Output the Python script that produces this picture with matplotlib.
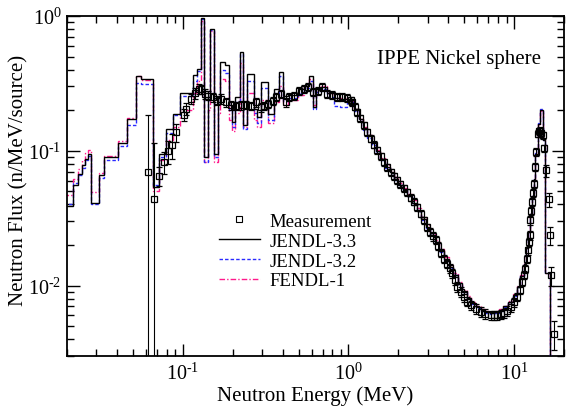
import numpy as np
import matplotlib
matplotlib.use("Agg")
import matplotlib.pyplot as plt
from matplotlib.lines import Line2D
from matplotlib.ticker import LogLocator, FuncFormatter, NullFormatter

# ---------------- data ----------------
# histogram group boundaries (MeV), shared by the three calculations
edges = [0.019, 0.0217, 0.0234, 0.0245, 0.0256, 0.0266, 0.0279, 0.0313, 0.0336, 0.0404,
         0.0458, 0.0521, 0.0558, 0.0662, 0.0716, 0.0793, 0.0871, 0.0968, 0.115, 0.1217,
         0.1293, 0.1338, 0.1415, 0.1455, 0.1545, 0.1625, 0.168, 0.181, 0.19, 0.198,
         0.208, 0.2215, 0.232, 0.244, 0.268, 0.2805, 0.2963, 0.328, 0.353, 0.383,
         0.400, 0.429, 0.493, 0.541, 0.580, 0.607, 0.636, 0.681, 0.747, 0.820,
         0.895, 0.986, 1.082,
         1.15, 1.22, 1.30, 1.38, 1.47, 1.56, 1.66, 1.77, 1.88, 2.00,
         2.13, 2.27, 2.42, 2.58, 2.75, 2.93, 3.12, 3.32, 3.54, 3.77,
         4.02, 4.28, 4.56, 4.86, 5.18, 5.52, 5.88, 6.27, 6.68, 7.12,
         7.59, 8.09, 8.62, 9.18, 9.78, 10.4, 10.9, 11.4, 11.8, 12.2,
         12.5, 12.8, 13.1, 13.4, 13.9, 14.28, 14.95, 15.45, 16.4, 20.0]

jendl33 = [0.0387, 0.0553, 0.0676, 0.0779, 0.0872, 0.095, 0.0412, 0.0664, 0.0898, 0.114,
           0.171, 0.357, 0.341, 0.054, 0.095, 0.146, 0.188, 0.269, 0.365, 0.405,
           0.96, 0.090, 0.25, 0.80, 0.095, 0.25, 0.459, 0.43, 0.22, 0.163,
           0.25, 0.54, 0.154, 0.372, 0.205, 0.178, 0.326, 0.188, 0.288, 0.387,
           0.257, 0.26, 0.288, 0.302, 0.358, 0.21, 0.288, 0.296, 0.27, 0.245,
           0.243, 0.238,
           0.205, 0.172, 0.148, 0.130, 0.115, 0.099, 0.087, 0.076, 0.069, 0.062,
           0.056, 0.051, 0.046, 0.041, 0.036, 0.031, 0.027, 0.0238, 0.0212, 0.0180,
           0.0158, 0.0138, 0.0120, 0.0104, 0.0091, 0.0081, 0.0074, 0.0069, 0.0066, 0.0064,
           0.0063, 0.0064, 0.0066, 0.0070, 0.0076, 0.0085, 0.0098, 0.0118, 0.0145, 0.019,
           0.025, 0.034, 0.046, 0.062, 0.095, 0.159, 0.199, 0.12, 0.0123, 0.0]

jendl32 = [0.0405, 0.058, 0.066, 0.075, 0.085, 0.092, 0.040, 0.063, 0.085, 0.108,
           0.154, 0.319, 0.312, 0.056, 0.090, 0.135, 0.183, 0.255, 0.33, 0.39,
           0.95, 0.083, 0.24, 0.79, 0.09, 0.23, 0.40, 0.38, 0.20, 0.15,
           0.23, 0.52, 0.145, 0.33, 0.19, 0.16, 0.29, 0.17, 0.27, 0.36,
           0.235, 0.245, 0.27, 0.29, 0.33, 0.205, 0.275, 0.285, 0.25, 0.215,
           0.21, 0.232,
           0.198, 0.166, 0.142, 0.125, 0.111, 0.096, 0.085, 0.075, 0.068, 0.061,
           0.056, 0.051, 0.046, 0.041, 0.0355, 0.0305, 0.0268, 0.0236, 0.0210, 0.0178,
           0.0156, 0.0136, 0.0119, 0.0103, 0.0090, 0.0080, 0.0073, 0.0068, 0.0065, 0.0063,
           0.0062, 0.0063, 0.0065, 0.0069, 0.0075, 0.0084, 0.0097, 0.0117, 0.0145, 0.019,
           0.025, 0.034, 0.046, 0.063, 0.097, 0.162, 0.203, 0.12, 0.0123, 0.0]

fendl1 = [0.0467, 0.0613, 0.073, 0.085, 0.097, 0.102, 0.0495, 0.0686, 0.092, 0.118,
          0.175, 0.36, 0.337, 0.05, 0.085, 0.12, 0.15, 0.20, 0.27, 0.33,
          0.92, 0.083, 0.2, 0.78, 0.083, 0.19, 0.34, 0.33, 0.17, 0.14,
          0.19, 0.45, 0.15, 0.27, 0.17, 0.15, 0.24, 0.16, 0.23, 0.30,
          0.22, 0.24, 0.26, 0.30, 0.34, 0.22, 0.28, 0.30, 0.27, 0.245,
          0.245, 0.236,
          0.205, 0.172, 0.149, 0.131, 0.117, 0.101, 0.089, 0.078, 0.071, 0.064,
          0.058, 0.053, 0.048, 0.043, 0.0375, 0.032, 0.028, 0.0246, 0.0218, 0.0186,
          0.0163, 0.0142, 0.0123, 0.0106, 0.0093, 0.0083, 0.0076, 0.0071, 0.0067, 0.0065,
          0.0064, 0.0065, 0.0067, 0.0071, 0.0077, 0.0086, 0.0099, 0.0119, 0.0146, 0.019,
          0.025, 0.034, 0.046, 0.062, 0.095, 0.158, 0.197, 0.12, 0.0123, 0.0]

meas_E = [0.0618, 0.0667, 0.0719, 0.0769, 0.0812, 0.0864, 0.0912, 0.101, 0.105, 0.112,
          0.118, 0.125, 0.129, 0.136, 0.142, 0.152, 0.161, 0.170, 0.183, 0.196,
          0.209, 0.224, 0.240, 0.258, 0.277, 0.295, 0.311, 0.325, 0.348, 0.365,
          0.391, 0.419, 0.439, 0.471, 0.505, 0.541, 0.566, 0.607, 0.651, 0.697,
          0.747, 0.801, 0.858, 0.920, 0.986, 1.03, 1.057, 1.09, 1.133, 1.18,
          1.243, 1.30, 1.363, 1.43, 1.495, 1.57, 1.641, 1.72, 1.799, 1.88,
          1.973, 2.06, 2.16, 2.267, 2.38, 2.49, 2.602, 2.73, 2.86, 2.99,
          3.12, 3.23, 3.355, 3.48, 3.62, 3.77, 3.93, 4.08, 4.233, 4.38,
          4.536, 4.75, 4.977, 5.2, 5.455, 5.85, 6.269, 6.7, 7.212, 7.56,
          7.915, 8.3, 8.681, 9.1, 9.51, 9.95, 10.42, 10.8, 11.17, 11.45,
          11.69, 11.9, 12.09, 12.27, 12.44, 12.55, 12.7, 12.85, 13.0, 13.16,
          13.34, 13.6, 13.9, 14.15, 14.37, 14.6, 14.84, 15.1, 15.58, 16.2,
          16.55, 16.78, 17.3]

meas_flux = [0.0695, 0.044, 0.0649, 0.0826, 0.0990, 0.110, 0.137, 0.185, 0.205, 0.243,
             0.267, 0.288, 0.285, 0.264, 0.257, 0.250, 0.236, 0.243, 0.229, 0.217,
             0.214, 0.217, 0.219, 0.214, 0.229, 0.21, 0.216, 0.223, 0.236, 0.250,
             0.264, 0.229, 0.25, 0.257, 0.280, 0.288, 0.296, 0.272, 0.280, 0.296,
             0.264, 0.26, 0.250, 0.25, 0.246, 0.238, 0.230, 0.212, 0.194, 0.175,
             0.154, 0.138, 0.123, 0.111, 0.1005, 0.091, 0.0824, 0.0755, 0.0695, 0.0645,
             0.0602, 0.0565, 0.053, 0.0494, 0.045, 0.0418, 0.0383, 0.0342, 0.0305, 0.0272,
             0.0250, 0.0232, 0.0217, 0.0196, 0.0175, 0.0158, 0.0145, 0.0134, 0.0123, 0.0110,
             0.00978, 0.0090, 0.00824, 0.0076, 0.00714, 0.00672, 0.00638, 0.00615, 0.00602, 0.0060,
             0.00602, 0.0061, 0.00621, 0.0065, 0.00695, 0.0075, 0.00824, 0.0093, 0.01064, 0.0120,
             0.01336, 0.0158, 0.0182, 0.021, 0.0236, 0.0305, 0.036, 0.0417, 0.049, 0.057,
             0.0757, 0.0977, 0.134, 0.14, 0.141, 0.135, 0.130, 0.104, 0.0715, 0.0436,
             0.0236, 0.0119, 0.0044]

meas_relerr = [1.65, 1.60, 0.16, 0.18, 0.20, 0.21, 0.15, 0.10, 0.10, 0.09,
               0.09, 0.08, 0.08, 0.08, 0.08, 0.08, 0.08, 0.08, 0.08, 0.08,
               0.07, 0.07, 0.07, 0.07, 0.07, 0.07, 0.07, 0.07, 0.07, 0.07,
               0.07, 0.07, 0.07, 0.07, 0.07, 0.07, 0.07, 0.07, 0.07, 0.07,
               0.07, 0.07, 0.07, 0.07, 0.07, 0.06, 0.06, 0.06, 0.06, 0.06,
               0.06, 0.06, 0.06, 0.06, 0.06, 0.06, 0.06, 0.06, 0.06, 0.06,
               0.06, 0.06, 0.06, 0.06, 0.06, 0.06, 0.06, 0.06, 0.06, 0.06,
               0.07, 0.07, 0.07, 0.07, 0.07, 0.07, 0.07, 0.08, 0.08, 0.08,
               0.08, 0.08, 0.08, 0.08, 0.08, 0.08, 0.08, 0.08, 0.08, 0.08,
               0.08, 0.08, 0.08, 0.08, 0.08, 0.07, 0.07, 0.07, 0.07, 0.07,
               0.07, 0.07, 0.07, 0.07, 0.07, 0.07, 0.07, 0.07, 0.07, 0.07,
               0.07, 0.07, 0.06, 0.06, 0.06, 0.06, 0.06, 0.06, 0.10, 0.12,
               0.15, 0.16, 0.25]

# ---------------- style ----------------
plt.rcParams['font.family'] = ['Liberation Serif', 'DejaVu Serif']
plt.rcParams['mathtext.fontset'] = 'custom'
plt.rcParams['mathtext.rm'] = 'Liberation Serif'
plt.rcParams['mathtext.it'] = 'Liberation Serif:italic'
plt.rcParams['mathtext.bf'] = 'Liberation Serif:bold'

fig = plt.figure(figsize=(5.68, 4.10), dpi=100)
ax = fig.add_axes([67/568, 1 - 357/410, (564 - 67)/568, (357 - 17)/410])

c_black = '#000000'
c_blue = '#2a2aff'
c_pink = '#ff1a8c'
ls_blue = (0, (2.5, 1.5))
ls_pink = (0, (4, 1.5, 1, 1.5))

ax.stairs(fendl1, edges, baseline=None, color=c_pink, lw=1.0, linestyle=ls_pink, zorder=2)
ax.stairs(jendl32, edges, baseline=None, color=c_blue, lw=1.0, linestyle=ls_blue, zorder=3)
ax.stairs(jendl33, edges, baseline=None, color=c_black, lw=1.0, zorder=4)

meas_E_a = np.array(meas_E)
meas_y_a = np.array(meas_flux)
meas_err = meas_y_a * np.array(meas_relerr)
ax.errorbar(meas_E_a, meas_y_a, yerr=meas_err, fmt='s', ms=5, mfc='none',
            mec='black', mew=0.9, ecolor='black', elinewidth=0.8, capsize=2,
            capthick=0.8, zorder=5)

ax.set_xscale('log')
ax.set_yscale('log', nonpositive='clip')
ax.set_xlim(0.02, 20)
ax.set_ylim(0.003, 1.0)


def pow_fmt(v, pos):
    n = int(round(np.log10(v)))
    if n < 0:
        return r'$10^{\text{-%d}}$' % (-n)
    return r'$10^{%d}$' % n


for a in (ax.xaxis, ax.yaxis):
    a.set_major_locator(LogLocator(base=10, numticks=10))
    a.set_minor_locator(LogLocator(base=10, subs=np.arange(2, 10), numticks=20))
    a.set_minor_formatter(NullFormatter())
    a.set_major_formatter(FuncFormatter(pow_fmt))

ax.tick_params(which='both', direction='in', top=True, right=True, width=1.0,
               labelsize=14.5, colors='black')
ax.tick_params(which='major', length=9)
ax.tick_params(which='minor', length=5)
ax.tick_params(axis='x', which='major', pad=5)
ax.tick_params(axis='y', which='major', pad=4)
for s in ax.spines.values():
    s.set_linewidth(1.3)

ax.set_xlabel('Neutron Energy (MeV)', fontsize=15, labelpad=1)
ax.set_ylabel('Neutron Flux (n/MeV/source)', fontsize=15)
ax.yaxis.set_label_coords((28 - 67) / 497, 0.52)

ax.text(0.624, 0.874, 'IPPE Nickel sphere', transform=ax.transAxes,
        ha='left', va='center', fontsize=15)

handles = [
    Line2D([], [], ls='none', marker='s', ms=4, mfc='none', mec='black', mew=0.8),
    Line2D([], [], color=c_black, lw=1.0),
    Line2D([], [], color=c_blue, lw=1.0, linestyle=ls_blue),
    Line2D([], [], color=c_pink, lw=1.0, linestyle=ls_pink),
]
labels = ['Measurement', 'JENDL-3.3', 'JENDL-3.2', 'FENDL-1']
ax.legend(handles, labels, loc='upper left', bbox_to_anchor=(0.305, 0.422),
          frameon=False, fontsize=13.5, handlelength=2.2, handletextpad=0.5,
          labelspacing=0.15, borderpad=0, borderaxespad=0)

fig.savefig('out.png', dpi=100)
